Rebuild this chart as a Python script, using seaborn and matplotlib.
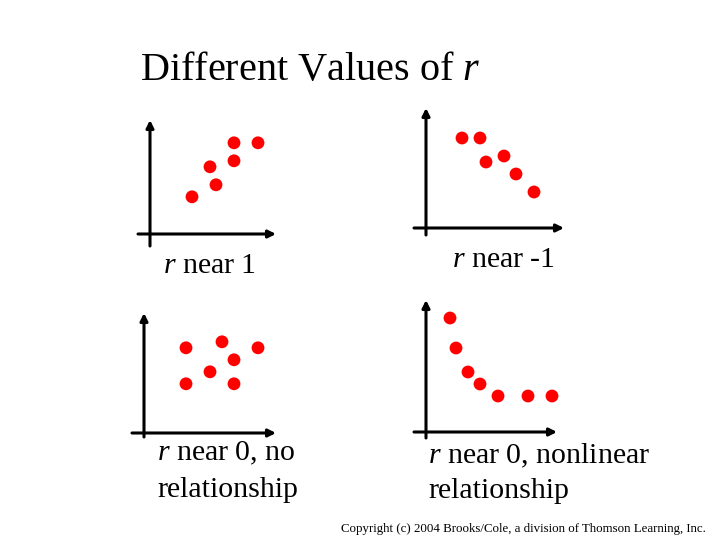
import numpy as np
import pandas as pd
from matplotlib import pyplot as plt
import seaborn as sns

# scatter points for each panel (arbitrary units, origin at the axes crossing)
pos_x = [7, 10, 11, 14, 14, 18]
pos_y = [6.2, 11.2, 8.2, 12.2, 15.2, 15.2]
neg_x = [6, 9, 10, 13, 15, 18]
neg_y = [15, 15, 11, 12, 9, 6]
zero_x = [7, 13, 19, 15, 11, 7, 15]
zero_y = [14.2, 15.2, 14.2, 12.2, 10.2, 8.2, 8.2]
curve_x = [4, 5, 7, 9, 12, 17, 21]
curve_y = [19, 14, 10, 8, 6, 6, 6]

title = r"Different Values of $r$"
labels = [[r"$r$ near 1"], [r"$r$ near -1"],
          [r"$r$ near 0, no", "relationship"],
          [r"$r$ near 0, nonlinear", "relationship"]]
copyright_txt = "Copyright (c) 2004 Brooks/Cole, a division of Thomson Learning, Inc."

sns.set_theme(style="white")
plt.rcParams["font.family"] = ["Liberation Serif", "DejaVu Serif"]
plt.rcParams["text.color"] = "black"
plt.rcParams["mathtext.fontset"] = "custom"
plt.rcParams["mathtext.rm"] = "Liberation Serif"
plt.rcParams["mathtext.it"] = "Liberation Serif:italic"

W, H = 720, 540
fig = plt.figure(figsize=(7.2, 5.4), dpi=100)
fig.patch.set_facecolor("white")

U = 6.0  # pixels per data unit

def panel(x0, x1, y0, y1, ox, oy, xs, ys):
    # x0..x1, y0..y1 pixel box (y from top), ox, oy pixel origin
    ax = fig.add_axes([x0 / W, 1 - y1 / H, (x1 - x0) / W, (y1 - y0) / H])
    ax.set_xlim((x0 - ox) / U, (x1 - ox) / U)
    ax.set_ylim((oy - y1) / U, (oy - y0) / U)
    ax.axis("off")
    xl, xr = ax.get_xlim()
    yb, yt = ax.get_ylim()
    ap = dict(arrowstyle="-|>", lw=2.2, color="black", shrinkA=0, shrinkB=0,
              mutation_scale=11)
    ax.annotate("", xy=(xr, 0), xytext=(xl, 0), arrowprops=ap, annotation_clip=False)
    ax.annotate("", xy=(0, yt), xytext=(0, yb), arrowprops=ap, annotation_clip=False)
    df = pd.DataFrame({"x": xs, "y": ys})
    sns.scatterplot(data=df, x="x", y="y", ax=ax, color="#ff0000", s=85,
                    edgecolor="none", legend=False, zorder=3, clip_on=False)
    ax.set_xlabel("")
    ax.set_ylabel("")
    return ax

panel(138, 276, 120, 246, 150, 234, pos_x, pos_y)
panel(414, 564, 108, 235, 426, 228, neg_x, neg_y)
panel(132, 276, 313, 437, 144, 433, zero_x, zero_y)
panel(414, 557, 300, 438, 426, 432, curve_x, curve_y)

def txt(x, y, s, size):
    fig.text(x / W, 1 - y / H, s, fontsize=size, ha="left", va="baseline",
             color="black")

txt(140, 80, title, 29)
txt(163, 273, labels[0][0], 21.5)
txt(452, 267, labels[1][0], 21.5)
txt(157, 460, labels[2][0], 21.5)
txt(157, 497, labels[2][1], 21.5)
txt(428, 463, labels[3][0], 21.5)
txt(428, 498, labels[3][1], 21.5)
txt(341, 532, copyright_txt, 9.3)

plt.savefig("out.png", dpi=100)
